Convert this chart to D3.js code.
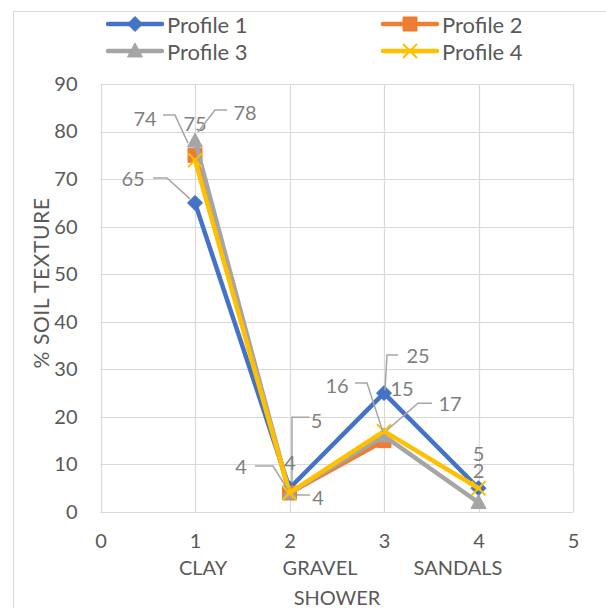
<!DOCTYPE html>
<html>
<head>
<meta charset="utf-8">
<script src="https://cdn.jsdelivr.net/npm/d3@7/dist/d3.min.js"></script>
<style>
  html, body { margin: 0; padding: 0; background: #fff; }
  svg { display: block; }
  text { font-family: Lato, "Open Sans", sans-serif; }
</style>
</head>
<body>
<svg id="chart" width="606" height="608"></svg>
<script>
// ---- data ----
const xTicks = [0, 1, 2, 3, 4, 5];
const yTicks = [0, 10, 20, 30, 40, 50, 60, 70, 80, 90];
const xPositions = [1, 2, 3, 4];
const seriesNames = ["Profile 1", "Profile 2", "Profile 3", "Profile 4"];
const profile1 = [65, 5, 25, 5];
const profile2 = [75, 4, 15, null];
const profile3 = [78, 4, 16, 2];
const profile4 = [74, 4, 17, 5];
const categoryWords = ["CLAY", "GRAVEL", "SANDALS"];
const xTitle = "SHOWER";
const yTitle = "% SOIL TEXTURE";

// ---- styling ----
const colors = ["#4472C4", "#ED7D31", "#A5A5A5", "#FFC000"];
const markerTypes = ["diamond", "square", "triangle", "cross"];
const seriesValues = [profile1, profile2, profile3, profile4];

// data label placement: offsets from the marker, plus optional leader polyline
const labelLayout = [
  { s: 0, i: 0, dx: -62, dy: -25, leader: [[-42, -25], [-28, -25], [-5, -4]] },
  { s: 1, i: 0, dx: 0, dy: -32 },
  { s: 2, i: 0, dx: 50, dy: -29, leader: [[32, -31], [20, -31], [3, -9]] },
  { s: 3, i: 0, dx: -50, dy: -42, leader: [[-32, -45], [-20, -45], [-7, -17]] },
  { s: 0, i: 1, dx: 27, dy: -68, leader: [[20, -71], [2.5, -71], [2.5, -6]] },
  { s: 1, i: 1, dx: 0.5, dy: -31 },
  { s: 2, i: 1, dx: 28.5, dy: 4, leader: [[20.5, 2], [7.5, 2]] },
  { s: 3, i: 1, dx: -48.5, dy: -27, leader: [[-34.5, -27], [-16.5, -27], [-1.5, -3]] },
  { s: 0, i: 2, dx: 34, dy: -38, leader: [[14, -38], [3, -38], [1, -3]] },
  { s: 1, i: 2, dx: 18, dy: -53 },
  { s: 2, i: 2, dx: -47, dy: -51, leader: [[-29, -53], [-17, -53], [-1, -4]] },
  { s: 3, i: 2, dx: 66, dy: -28, leader: [[48, -28], [34, -28], [3, -1]] },
  { s: 0, i: 3, dx: 0, dy: -35 },
  { s: 2, i: 3, dx: 0, dy: -32 }
];

const svg = d3.select("#chart");
const plot = { left: 100.5, right: 573, top: 84, bottom: 512 };

const x = d3.scaleLinear().domain([0, 5]).range([plot.left, plot.right]);
const y = d3.scaleLinear().domain([0, 90]).range([plot.bottom, plot.top]);

// outer chart frame
svg.append("rect")
  .attr("x", 13.5).attr("y", 11.5).attr("width", 620).attr("height", 620)
  .attr("fill", "none").attr("stroke", "#d9d9d9").attr("stroke-width", 1);

// gridlines
svg.append("g").selectAll("line").data(yTicks).join("line")
  .attr("x1", plot.left).attr("x2", plot.right)
  .attr("y1", d => Math.round(y(d)) + 0.5).attr("y2", d => Math.round(y(d)) + 0.5)
  .attr("stroke", "#d9d9d9").attr("stroke-width", 1.2);
svg.append("g").selectAll("line").data(xTicks).join("line")
  .attr("y1", plot.top).attr("y2", plot.bottom)
  .attr("x1", d => Math.round(x(d)) + 0.5).attr("x2", d => Math.round(x(d)) + 0.5)
  .attr("stroke", "#d9d9d9").attr("stroke-width", 1.2);

// axes (labels only)
const yAxis = svg.append("g").attr("transform", `translate(${plot.left},0)`)
  .call(d3.axisLeft(y).tickValues(yTicks).tickFormat(d3.format("d")).tickSize(0).tickPadding(23));
const xAxis = svg.append("g").attr("transform", `translate(0,${plot.bottom})`)
  .call(d3.axisBottom(x).tickValues(xTicks).tickFormat(d3.format("d")).tickSize(0).tickPadding(22));
[yAxis, xAxis].forEach(a => {
  a.select(".domain").remove();
  a.selectAll("text").attr("fill", "#595959").style("font-size", "20px")
    .style("font-family", "Lato, 'Open Sans', sans-serif");
});

// x axis title: category words line + title line
const titleCx = 341;
const wordOffsets = [-138, -21, 117];
svg.append("g").selectAll("text").data(categoryWords).join("text")
  .attr("x", (d, i) => titleCx + wordOffsets[i]).attr("y", 567)
  .attr("text-anchor", "middle").attr("dominant-baseline", "central")
  .attr("fill", "#595959").style("font-size", "20px").text(d => d);
svg.append("text").attr("x", 337).attr("y", 597)
  .attr("text-anchor", "middle").attr("dominant-baseline", "central")
  .attr("fill", "#595959").style("font-size", "20px").text(xTitle);

// y axis title
svg.append("text").attr("transform", "translate(40,283) rotate(-90)")
  .attr("text-anchor", "middle").attr("dominant-baseline", "central")
  .attr("fill", "#595959").style("font-size", "21px").style("letter-spacing", "0.6px").text(yTitle);

// marker shapes
function markerPath(type) {
  switch (type) {
    case "diamond": return "M0,-7.5L7.5,0L0,7.5L-7.5,0Z";
    case "square": return "M-7,-7H7V7H-7Z";
    case "triangle": return "M0,-8L7.5,6H-7.5Z";
    default: return "M-7,-7L7,7M-7,7L7,-7";
  }
}
function drawMarker(g, type, color, cx, cy) {
  const p = g.append("path").attr("d", markerPath(type))
    .attr("transform", `translate(${cx},${cy})`);
  if (type === "cross") p.attr("fill", "none").attr("stroke", color).attr("stroke-width", 2);
  else p.attr("fill", color).attr("stroke", color).attr("stroke-width", 1);
}

// series lines and markers
const line = d3.line()
  .defined(d => d.v !== null)
  .x(d => x(d.x)).y(d => y(d.v));

seriesValues.forEach((vals, s) => {
  const g = svg.append("g");
  const pts = vals.map((v, i) => ({ x: xPositions[i], v }));
  g.append("path").datum(pts).attr("d", line)
    .attr("fill", "none").attr("stroke", colors[s]).attr("stroke-width", 4.5)
    .attr("stroke-linejoin", "round").attr("stroke-linecap", "round");
  pts.filter(d => d.v !== null).forEach(d => drawMarker(g, markerTypes[s], colors[s], x(d.x), y(d.v)));
});

// data labels with leader lines
const labels = svg.append("g");
labelLayout.forEach(l => {
  const v = seriesValues[l.s][l.i];
  const px = x(xPositions[l.i]), py = y(v);
  if (l.leader) {
    labels.append("polyline")
      .attr("points", l.leader.map(p => `${px + p[0]},${py + p[1]}`).join(" "))
      .attr("fill", "none").attr("stroke", "#a6a6a6").attr("stroke-width", 1.5);
  }
  labels.append("text").attr("x", px + l.dx).attr("y", py + l.dy)
    .attr("text-anchor", "middle").attr("dominant-baseline", "central")
    .attr("fill", "#7f7f7f").style("font-size", "20px").text(v);
});

// legend
const legendItems = [
  { s: 0, x: 108, y: 24 }, { s: 1, x: 383, y: 24 },
  { s: 2, x: 108, y: 51 }, { s: 3, x: 383, y: 51 }
];
const legend = svg.append("g");
legendItems.forEach(it => {
  legend.append("line").attr("x1", it.x).attr("x2", it.x + 54)
    .attr("y1", it.y).attr("y2", it.y)
    .attr("stroke", colors[it.s]).attr("stroke-width", 4.5).attr("stroke-linecap", "round");
  drawMarker(legend, markerTypes[it.s], colors[it.s], it.x + 27, it.y);
  legend.append("text").attr("x", it.x + 59).attr("y", it.y)
    .attr("dominant-baseline", "central").attr("fill", "#595959")
    .style("font-size", "22px").text(seriesNames[it.s]);
});
</script>
</body>
</html>
